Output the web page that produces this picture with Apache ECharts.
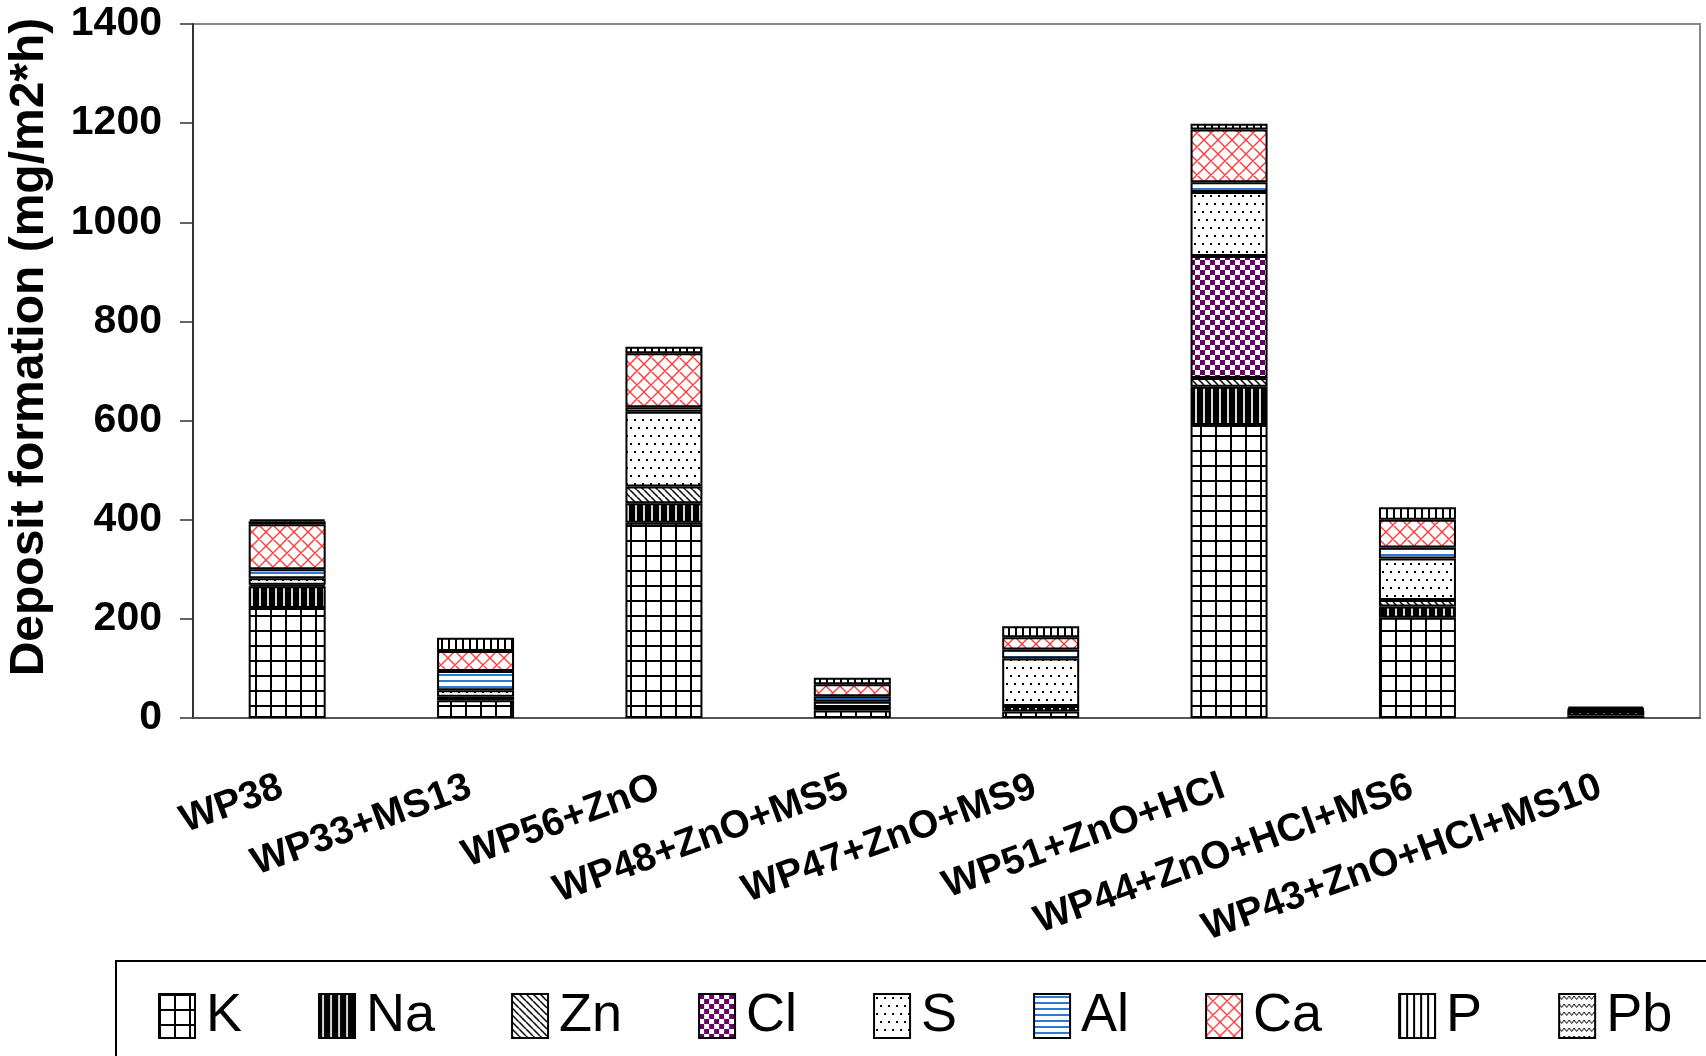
<!DOCTYPE html>
<html><head><meta charset="utf-8">
<script src="https://cdn.jsdelivr.net/npm/echarts@6/dist/echarts.min.js"></script>
<style>html,body{margin:0;padding:0;background:#fff}#c{width:1706px;height:1056px}</style>
</head><body><div id="c"></div>
<script>
const categories = ['WP38','WP33+MS13','WP56+ZnO','WP48+ZnO+MS5','WP47+ZnO+MS9','WP51+ZnO+HCl','WP44+ZnO+HCl+MS6','WP43+ZnO+HCl+MS10'];
const seriesNames = ['K','Na','Zn','Cl','S','Al','Ca','P','Pb'];
const K  = [222, 36, 394, 15, 13, 591, 202, 5];
const Na = [44, 7, 39, 7, 11, 77, 23, 9];
const Zn = [3, 0, 34, 0, 0, 18, 13, 0];
const Cl = [0, 0, 0, 0, 0, 246, 0, 0];
const S  = [13, 13, 151, 11, 96, 129, 84, 2];
const Al = [18, 39, 9, 11, 18, 20, 22, 1];
const Ca = [91, 40, 109, 24, 25, 106, 56, 2];
const P  = [6, 27, 13, 13, 22, 12, 25, 4];
const Pb = [4, 0, 0, 0, 0, 0, 0, 0];
const yMin = 0, yMax = 1400, yStep = 200;
const yTitle = 'Deposit formation (mg/m2*h)';

function tile(w, h, draw) {
  const c = document.createElement('canvas');
  c.width = w; c.height = h;
  const g = c.getContext('2d');
  g.fillStyle = '#fff'; g.fillRect(0, 0, w, h);
  draw(g, w, h);
  return { image: c, repeat: 'repeat' };
}
const patterns = {
  K: tile(15, 15, g => { g.fillStyle = '#000'; g.fillRect(0, 0, 2, 15); g.fillRect(0, 0, 15, 2); }),
  Na: tile(8, 8, g => { g.fillStyle = '#000'; g.fillRect(0, 0, 8, 8); g.fillStyle = '#d8d8d8'; g.fillRect(3, 0, 2, 8); }),
  Zn: tile(7, 7, (g, w, h) => { g.strokeStyle = '#000'; g.lineWidth = 1.5; g.beginPath();
        for (let k = -1; k <= 1; k++) { g.moveTo(k * w, 0); g.lineTo(k * w + w, h); } g.stroke(); }),
  Cl: tile(10, 10, g => { g.fillStyle = '#660066'; g.fillRect(0, 0, 5, 5); g.fillRect(5, 5, 5, 5); }),
  S: tile(8, 16, g => { g.fillStyle = '#000'; g.fillRect(2, 3, 2, 2); g.fillRect(6, 11, 2, 2); }),
  Al: tile(8, 6, g => { g.fillStyle = '#2b7bd6'; g.fillRect(0, 2, 8, 2); }),
  Ca: tile(14, 14, (g, w, h) => { g.strokeStyle = '#ff3b3b'; g.lineWidth = 1.4; g.beginPath();
        for (let k = -1; k <= 1; k++) { g.moveTo(k * w, 0); g.lineTo(k * w + w, h); g.moveTo(k * w + w, 0); g.lineTo(k * w, h); } g.stroke(); }),
  P: tile(7, 4, g => { g.fillStyle = '#000'; g.fillRect(0, 0, 2, 4); }),
  Pb: tile(10, 8, g => { g.strokeStyle = '#000'; g.lineWidth = 1; g.beginPath();
        g.moveTo(0, 2); g.lineTo(2.5, 5.5); g.lineTo(5, 2); g.lineTo(7.5, 5.5); g.lineTo(10, 2); g.stroke(); })
};
const valuesByName = { K, Na, Zn, Cl, S, Al, Ca, P, Pb };

const chart = echarts.init(document.getElementById('c'), null, { renderer: 'canvas' });
chart.setOption({
  animation: false,
  backgroundColor: '#fff',
  grid: { left: 193, right: 6, top: 24, bottom: 338, show: true, borderColor: '#888', borderWidth: 2, backgroundColor: 'transparent' },
  xAxis: {
    type: 'category', data: categories,
    axisLine: { lineStyle: { color: '#555', width: 2 } },
    axisTick: { show: false },
    axisLabel: { interval: 0, rotate: 20, margin: 66, fontSize: 39, fontWeight: 'bold', color: '#000', fontFamily: 'Liberation Sans, Arial, sans-serif',
                 padding: [0, 6, 0, 0] }
  },
  yAxis: {
    type: 'value', min: yMin, max: yMax, interval: yStep,
    axisLine: { show: true, lineStyle: { color: '#333', width: 2 } },
    axisTick: { show: true, length: 13, lineStyle: { color: '#333', width: 1.5 } },
    splitLine: { show: false },
    axisLabel: { margin: 31, fontSize: 41, fontWeight: 'bold', color: '#000', fontFamily: 'Liberation Sans, Arial, sans-serif',
                 formatter: v => String(v) }
  },
  legend: {
    left: 158, top: 989, padding: 0, icon: 'rect', itemWidth: 36, itemHeight: 44, itemGap: 76,
    textStyle: { fontFamily: 'Liberation Sans, Arial, sans-serif', fontSize: 54, color: '#000', padding: [0, 0, 0, 6] },
    data: seriesNames
  },
  graphic: [
    { type: 'rect', z: -1, shape: { x: 116, y: 961, width: 1700, height: 200 }, style: { fill: 'none', stroke: '#000', lineWidth: 2 } },
    { type: 'text', x: 30, y: 347, rotation: Math.PI / 2,
      style: { text: yTitle, align: 'center', verticalAlign: 'middle', fontSize: 48, fontWeight: 'bold', fill: '#000', fontFamily: 'Liberation Sans, Arial, sans-serif' } }
  ],
  series: seriesNames.map(n => ({
    name: n, type: 'bar', stack: 'total', barWidth: 77,
    itemStyle: { color: patterns[n], borderColor: '#000', borderWidth: 2 },
    emphasis: { disabled: true },
    data: valuesByName[n].map(v => v === 0 ? '-' : v)
  }))
});
</script></body></html>
